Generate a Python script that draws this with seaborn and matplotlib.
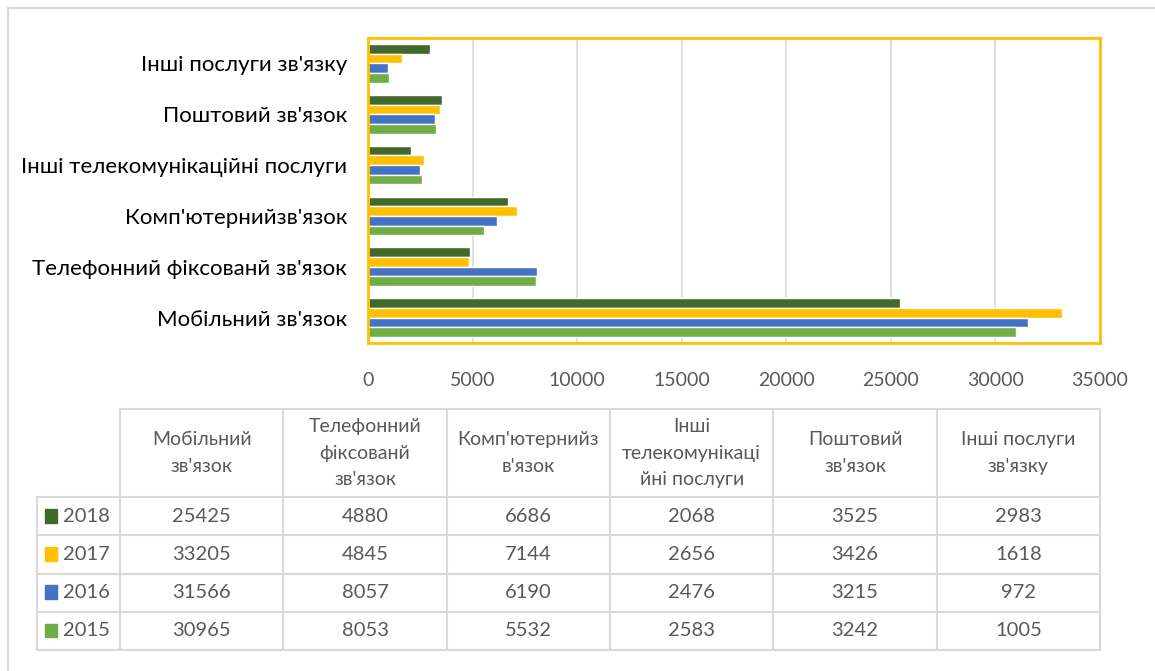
import numpy as np
import pandas as pd
import seaborn as sns
import matplotlib.pyplot as plt
from matplotlib.patches import Rectangle

# categories, top to bottom as drawn in the chart
categories = ["Інші послуги зв'язку", "Поштовий зв'язок", "Інші телекомунікаційні послуги",
              "Комп'ютернийзв'язок", "Телефонний фіксованй зв'язок", "Мобільний зв'язок"]
years = ["2018", "2017", "2016", "2015"]
v2018 = [2983, 3525, 2068, 6686, 4880, 25425]
v2017 = [1618, 3426, 2656, 7144, 4845, 33205]
v2016 = [972, 3215, 2476, 6190, 8057, 31566]
v2015 = [1005, 3242, 2583, 5532, 8053, 30965]
colors = ["#43682B", "#FFC000", "#4472C4", "#70AD47"]

# table column order (left to right) and wrapped header text
table_order = ["Мобільний зв'язок", "Телефонний фіксованй зв'язок", "Комп'ютернийзв'язок",
               "Інші телекомунікаційні послуги", "Поштовий зв'язок", "Інші послуги зв'язку"]
table_headers = ["Мобільний\nзв'язок", "Телефонний\nфіксованй\nзв'язок", "Комп'ютернийз\nв'язок",
                 "Інші\nтелекомунікаці\nйні послуги", "Поштовий\nзв'язок", "Інші послуги\nзв'язку"]

rows = []
for yr, vals in zip(years, [v2018, v2017, v2016, v2015]):
    for c, v in zip(categories, vals):
        rows.append({"cat": c, "year": yr, "value": v})
df = pd.DataFrame(rows)

sns.set_style("white")
plt.rcParams['font.family'] = ['Lato', 'DejaVu Sans']

W, H = 1155, 671
fig = plt.figure(figsize=(W / 100, H / 100), dpi=100)

def box(l, t, r, b):
    return [l / W, 1 - b / H, (r - l) / W, (b - t) / H]

# outer frame (top/left visible)
fig.add_artist(plt.Line2D([8 / W, 1.0], [1 - 8 / H, 1 - 8 / H], color="#D9D9D9", lw=1.5))
fig.add_artist(plt.Line2D([8 / W, 8 / W], [0.0, 1 - 8 / H], color="#D9D9D9", lw=1.5))

ax = fig.add_axes(box(368, 38, 1100, 343))
sns.barplot(data=df, y="cat", x="value", hue="year", order=categories, hue_order=years,
            palette=colors, width=0.76, orient="h", ax=ax, legend=False, saturation=1)
ax.set_xlim(0, 35000)
ax.set_xticks(np.arange(0, 35001, 5000))
ax.xaxis.grid(True, color="#D9D9D9", lw=1.2)
ax.set_axisbelow(True)
for s in ax.spines.values():
    s.set_color("#FFC000")
    s.set_linewidth(2)
ax.set_xlabel("")
ax.set_ylabel("")
ax.tick_params(axis="y", length=0, pad=15, labelsize=16, labelcolor="#000000")
ax.tick_params(axis="x", length=0, pad=21, labelsize=14, labelcolor="#595959")

# data table
tax = fig.add_axes(box(37, 409, 1100, 650))
c0 = 83 / 163.3
hdr = 88 / 38.25
tax.set_xlim(-c0, 6)
tax.set_ylim(0, 4 + hdr)
tax.axis("off")
lc = "#D9D9D9"
lw = 1.5
# horizontal lines
tax.plot([0, 6], [4 + hdr, 4 + hdr], color=lc, lw=lw, clip_on=False)
for r in range(5):
    tax.plot([-c0, 6], [r, r], color=lc, lw=lw, clip_on=False)
# vertical lines
tax.plot([-c0, -c0], [0, 4], color=lc, lw=lw, clip_on=False)
for c in range(7):
    tax.plot([c, c], [0, 4 + hdr], color=lc, lw=lw, clip_on=False)

for j, h in enumerate(table_headers):
    tax.text(j + 0.5, 4 + hdr / 2, h, ha="center", va="center", fontsize=14,
             color="#595959", linespacing=1.65)

series = dict(zip(years, [v2018, v2017, v2016, v2015]))
for i, (yr, col) in enumerate(zip(years, colors)):
    yc = 3.5 - i
    vals = dict(zip(categories, series[yr]))
    tax.add_patch(Rectangle((-c0 + 0.05, yc - 0.17), 0.075, 0.36, color=col, clip_on=False))
    tax.text(-c0 + 0.16, yc, yr, ha="left", va="center", fontsize=14.5, color="#595959")
    for j, c in enumerate(table_order):
        tax.text(j + 0.5, yc, str(vals[c]), ha="center", va="center", fontsize=14.5,
                 color="#595959")

fig.savefig("out.png", dpi=100)
